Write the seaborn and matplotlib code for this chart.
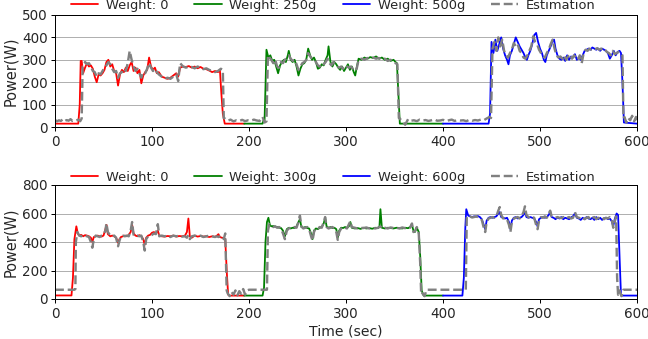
import numpy as np
import pandas as pd
import seaborn as sns
import matplotlib.pyplot as plt

# values: (time in sec, power in W)

# ---- top panel ----
top_w0 = [(0, 15), (24, 15), (25.5, 100), (26.5, 295), (27.5, 295), (29, 240), (31, 265), (33, 285),
          (35, 270), (37, 275), (39, 260), (41, 225), (43, 200), (45, 235), (47, 230), (49, 240),
          (51, 255), (53, 290), (55, 300), (57, 270), (59, 280), (61, 250), (63, 240), (65, 185),
          (67, 235), (69, 255), (71, 245), (73, 265), (75, 250), (77, 275), (79, 290), (81, 250),
          (83, 265), (85, 240), (87, 255), (89, 195), (91, 230), (93, 245), (95, 255), (97, 310),
          (99, 270), (101, 255), (103, 265), (105, 240), (107, 245), (110, 225), (113, 220),
          (116, 215), (119, 220), (122, 230), (125, 240), (127, 225), (129, 265), (132, 270),
          (135, 268), (138, 272), (141, 265), (144, 270), (147, 262), (150, 268), (153, 260),
          (156, 258), (159, 252), (162, 245), (165, 250), (168, 245), (170, 255), (171.5, 150),
          (173, 60), (175, 15), (195, 15)]
top_w1 = [(195, 15), (214, 15), (215, 30), (216, 25), (217, 180), (218, 345), (220, 310), (222, 320),
          (224, 295), (226, 300), (228, 270), (230, 240), (232, 275), (234, 290), (236, 300),
          (238, 290), (240, 320), (241, 340), (243, 300), (245, 290), (247, 300), (249, 270),
          (251, 230), (253, 260), (255, 280), (257, 285), (259, 300), (261, 350), (263, 320),
          (265, 300), (267, 310), (269, 290), (271, 260), (273, 265), (275, 280), (277, 275),
          (279, 300), (281, 320), (282, 360), (284, 290), (286, 270), (288, 290), (290, 280),
          (292, 265), (294, 255), (296, 270), (298, 250), (300, 265), (302, 280), (304, 255),
          (306, 270), (308, 245), (309.5, 230), (311, 265), (313, 305), (316, 300), (319, 310),
          (322, 305), (325, 312), (328, 308), (331, 315), (334, 305), (337, 310), (340, 300),
          (343, 305), (346, 295), (349, 300), (351, 290), (352.5, 285), (354, 150), (355.5, 15),
          (400, 15)]
top_w2 = [(400, 15), (447, 15), (448.5, 60), (450, 380), (452, 330), (454, 390), (456, 340),
          (458, 370), (460, 400), (462, 350), (464, 320), (466, 300), (467.5, 280), (469, 320),
          (471, 340), (473, 370), (475, 400), (477, 380), (479, 360), (481, 345), (483, 330),
          (485, 310), (486.5, 300), (488, 320), (490, 340), (492, 370), (494, 410), (496, 420),
          (498, 380), (500, 350), (502, 330), (504, 300), (505.5, 290), (507, 320), (509, 340),
          (511, 360), (513, 385), (514.5, 390), (516, 350), (518, 320), (520, 305), (522, 300),
          (524, 310), (526, 295), (528, 320), (530, 300), (532, 315), (534, 310), (536, 325),
          (538, 300), (540, 310), (542, 300), (544, 320), (546, 340), (548, 345), (550, 350),
          (552, 345), (554, 355), (556, 350), (558, 345), (560, 350), (562, 340), (564, 350),
          (566, 345), (568, 340), (570, 330), (572, 305), (574, 320), (576, 340), (578, 320),
          (580, 335), (582, 340), (583.5, 330), (585, 200), (586.5, 20), (600, 15)]
top_est = [(0, 32), (2, 25), (4, 30), (6, 27), (8, 34), (10, 26), (12, 31), (14, 28), (16, 35),
           (18, 27), (20, 30), (22, 29), (24, 33), (26, 26), (27.5, 38), (28.5, 270), (29, 270),
           (31, 290), (33, 280), (35, 285), (37, 270), (39, 250), (41, 245), (43, 225), (45, 240),
           (47, 235), (49, 250), (51, 265), (53, 275), (55, 290), (57, 280), (59, 260), (61, 245),
           (63, 250), (65, 220), (67, 240), (69, 245), (71, 260), (73, 250), (75, 285), (77, 340),
           (79, 300), (81, 270), (83, 250), (85, 260), (87, 240), (89, 220), (91, 245), (93, 240),
           (95, 260), (97, 285), (99, 265), (101, 250), (103, 260), (105, 245), (107, 235),
           (110, 225), (113, 215), (116, 220), (119, 215), (122, 225), (125, 235), (127, 205),
           (129, 285), (132, 270), (135, 265), (138, 270), (141, 268), (144, 262), (147, 270),
           (150, 265), (153, 258), (156, 262), (159, 255), (162, 250), (165, 245), (168, 250),
           (171, 260), (173, 255), (174, 40), (175, 38), (178, 28), (181, 33), (184, 25), (187, 30),
           (190, 27), (193, 32), (196, 26), (199, 30), (202, 28), (205, 33), (208, 29), (211, 27),
           (214, 45), (216, 20), (218, 25), (219.5, 320), (221, 310), (223, 300), (225, 285),
           (227, 300), (229, 270), (231, 265), (233, 290), (235, 285), (237, 300), (239, 310),
           (241, 320), (243, 305), (245, 295), (247, 300), (249, 280), (251, 255), (253, 270),
           (255, 285), (257, 290), (259, 300), (261, 330), (263, 315), (265, 305), (267, 300),
           (269, 290), (271, 275), (273, 270), (275, 285), (277, 280), (279, 290), (281, 305),
           (283, 285), (285, 275), (287, 290), (289, 280), (291, 270), (293, 265), (295, 270),
           (297, 260), (299, 275), (301, 270), (303, 265), (305, 270), (307, 260), (309, 250),
           (311, 260), (313, 300), (316, 305), (319, 300), (322, 308), (325, 305), (328, 310),
           (331, 305), (334, 308), (337, 300), (340, 305), (343, 295), (346, 300), (349, 290),
           (351, 285), (353, 280), (354.5, 40), (355, 40), (358, 25), (361, 10), (364, 35),
           (367, 28), (370, 30), (373, 26), (376, 33), (379, 29), (382, 31), (385, 27), (388, 30),
           (391, 34), (394, 28), (397, 29), (400, 32), (403, 26), (406, 30), (409, 33), (412, 27),
           (415, 31), (418, 29), (421, 30), (424, 26), (427, 32), (430, 28), (433, 31), (436, 29),
           (439, 33), (442, 30), (445, 38), (448, 45), (449.5, 40), (451, 350), (453, 380),
           (455, 340), (457, 400), (459, 360), (461, 390), (463, 340), (465, 320), (467, 310),
           (469, 330), (471, 345), (473, 375), (475, 360), (477, 370), (479, 340), (481, 330),
           (483, 310), (485, 305), (487, 320), (489, 340), (491, 360), (493, 405), (495, 380),
           (497, 370), (499, 345), (501, 330), (503, 315), (505, 310), (507, 330), (509, 345),
           (511, 370), (513, 390), (515, 350), (517, 320), (519, 310), (521, 315), (523, 305),
           (525, 320), (527, 300), (529, 315), (531, 325), (533, 305), (535, 320), (537, 310),
           (539, 300), (541, 320), (543, 285), (545, 330), (547, 345), (549, 340), (551, 350),
           (553, 345), (555, 350), (557, 348), (559, 352), (561, 345), (563, 350), (565, 340),
           (567, 345), (569, 335), (571, 330), (573, 320), (575, 340), (577, 325), (579, 330),
           (581, 335), (583, 330), (585, 320), (586, 40), (587, 45), (589, 20), (591, 40),
           (593, 30), (595, 50), (597, 25), (599, 45), (600, 30)]

# ---- bottom panel ----
bot_w0 = [(0, 25), (17, 25), (18.5, 150), (20, 420), (22, 510), (23.5, 460), (25, 445), (27, 450),
          (29, 440), (31, 448), (33, 445), (35, 440), (37, 430), (38.5, 400), (40, 435), (42, 440),
          (44, 445), (46, 440), (48, 438), (50, 445), (52, 490), (53, 520), (54.5, 455), (57, 440),
          (59, 445), (61, 440), (63, 430), (65, 395), (66.5, 420), (68, 435), (70, 440), (72, 445),
          (74, 440), (76, 450), (78, 470), (79.5, 520), (81, 460), (83, 445), (85, 440), (87, 448),
          (89, 440), (91, 420), (92.5, 380), (94, 430), (96, 445), (98, 450), (100, 465),
          (102, 470), (104, 460), (106, 480), (107.5, 445), (110, 440), (113, 438), (116, 442),
          (119, 440), (122, 445), (125, 438), (128, 442), (131, 440), (134, 445), (136, 470),
          (137.5, 565), (139, 440), (141, 430), (144, 445), (147, 438), (150, 442), (153, 438),
          (156, 440), (159, 435), (162, 440), (165, 436), (167, 445), (168.5, 455), (170, 435),
          (172, 430), (174, 428), (175.5, 420), (177, 200), (178.5, 30), (180, 24), (195, 24)]
bot_w1 = [(195, 24), (214, 24), (215.5, 80), (217, 400), (218.5, 540), (220, 570), (221.5, 520),
          (223, 510), (225, 512), (227, 508), (229, 505), (231, 500), (233, 498), (235, 480),
          (237, 440), (239, 490), (241, 500), (243, 495), (245, 500), (247, 498), (249, 510),
          (251, 540), (252.5, 560), (254, 505), (256, 500), (258, 505), (260, 498), (262, 495),
          (264, 460), (265.5, 420), (267, 480), (269, 495), (271, 490), (273, 500), (275, 505),
          (277, 530), (278.5, 570), (280, 510), (282, 500), (284, 505), (286, 498), (288, 500),
          (290, 490), (291.5, 430), (293, 480), (295, 500), (297, 498), (299, 505), (301, 500),
          (303, 510), (304.5, 540), (306, 500), (309, 495), (312, 498), (315, 492), (318, 500),
          (321, 495), (324, 498), (327, 493), (330, 500), (333, 497), (334.5, 510), (335.5, 630),
          (337, 500), (340, 495), (343, 500), (346, 498), (349, 495), (352, 500), (355, 497),
          (358, 495), (361, 500), (364, 497), (366, 505), (368, 520), (369.5, 480), (371, 470),
          (373, 500), (375, 470), (376.5, 300), (378, 60), (380, 24), (400, 24)]
bot_w2 = [(400, 24), (420, 24), (421.5, 150), (423, 500), (424, 630), (426, 585), (428, 580),
          (430, 575), (432, 580), (434, 578), (436, 582), (438, 575), (440, 560), (442, 520),
          (443.5, 490), (445, 550), (447, 570), (449, 575), (451, 570), (453, 575), (455, 580),
          (457, 600), (458.5, 610), (460, 575), (462, 570), (464, 565), (466, 570), (468, 540),
          (469.5, 490), (471, 550), (473, 570), (475, 575), (477, 565), (479, 570), (481, 575),
          (483, 590), (484.5, 610), (486, 575), (488, 570), (490, 575), (492, 570), (494, 565),
          (496, 540), (497.5, 510), (499, 560), (501, 570), (503, 575), (505, 570), (507, 575),
          (509, 590), (510.5, 610), (512, 575), (514, 570), (516, 560), (518, 572), (520, 565),
          (522, 575), (524, 560), (526, 570), (528, 565), (530, 560), (532, 572), (534, 580),
          (536, 600), (538, 570), (540, 565), (542, 555), (544, 570), (546, 560), (548, 575),
          (550, 565), (552, 560), (554, 570), (556, 555), (558, 575), (560, 560), (562, 570),
          (564, 555), (566, 565), (568, 570), (570, 560), (572, 565), (574, 545), (575.5, 510),
          (577, 560), (579, 600), (580.5, 590), (582, 300), (583.5, 24), (600, 24)]
bot_est = [(0, 65), (20, 65), (21, 70), (21.5, 400), (23, 470), (25, 445), (27, 440), (29, 450),
           (31, 445), (33, 440), (35, 435), (37, 400), (38.5, 360), (40, 420), (42, 445), (44, 440),
           (46, 435), (48, 445), (50, 450), (52, 480), (53, 530), (54.5, 470), (57, 445), (59, 440),
           (61, 445), (63, 430), (65, 370), (66.5, 410), (68, 440), (70, 445), (72, 440), (74, 445),
           (76, 440), (78, 480), (79.5, 540), (81, 450), (83, 440), (85, 445), (87, 440), (89, 445),
           (91, 400), (92.5, 340), (94, 420), (96, 440), (98, 445), (100, 450), (102, 460),
           (104, 455), (106, 525), (107.5, 440), (110, 445), (113, 440), (116, 445), (119, 435),
           (122, 445), (125, 440), (128, 445), (131, 438), (134, 440), (136, 430), (137.5, 450),
           (139, 420), (141, 440), (144, 445), (147, 440), (150, 445), (153, 435), (156, 440),
           (159, 445), (162, 440), (165, 435), (167, 440), (168.5, 435), (170, 440), (172, 445),
           (174, 420), (175.5, 460), (177, 60), (178, 40), (180, 20), (182, 50), (184, 30),
           (186, 60), (188, 25), (190, 55), (192, 35), (194, 70), (196, 30), (198, 60), (200, 65),
           (218.5, 65), (219.5, 480), (221, 525), (223, 515), (225, 505), (227, 510), (229, 500),
           (231, 505), (233, 495), (235, 460), (237, 420), (239, 480), (241, 495), (243, 500),
           (245, 495), (247, 505), (249, 500), (251, 540), (252.5, 585), (254, 510), (256, 495),
           (258, 500), (260, 505), (262, 490), (264, 440), (265.5, 410), (267, 470), (269, 500),
           (271, 495), (273, 505), (275, 500), (277, 540), (278.5, 575), (280, 505), (282, 495),
           (284, 500), (286, 505), (288, 495), (290, 470), (291.5, 415), (293, 470), (295, 495),
           (297, 505), (299, 500), (301, 495), (303, 525), (304.5, 545), (306, 505), (309, 500),
           (312, 495), (315, 500), (318, 498), (321, 502), (324, 495), (327, 500), (330, 495),
           (333, 500), (334.5, 505), (335.5, 510), (337, 495), (340, 500), (343, 495), (346, 502),
           (349, 498), (352, 500), (355, 495), (358, 502), (361, 497), (364, 495), (366, 500),
           (368, 530), (369.5, 470), (371, 475), (373, 505), (375, 460), (376.5, 250), (377.5, 30),
           (379, 40), (381, 20), (383, 65), (423.5, 65), (424.5, 580), (426, 575), (428, 578),
           (430, 572), (432, 575), (434, 580), (436, 575), (438, 570), (440, 555), (442, 500),
           (443.5, 470), (445, 540), (447, 565), (449, 570), (451, 575), (453, 570), (455, 580),
           (457, 620), (458.5, 645), (460, 590), (462, 565), (464, 570), (466, 560), (468, 520),
           (469.5, 470), (471, 540), (473, 565), (475, 570), (477, 575), (479, 565), (481, 580),
           (483, 610), (484.5, 650), (486, 590), (488, 575), (490, 565), (492, 575), (494, 570),
           (496, 520), (497.5, 490), (499, 550), (501, 575), (503, 570), (505, 580), (507, 570),
           (509, 600), (510.5, 620), (512, 580), (514, 575), (516, 570), (518, 575), (520, 570),
           (522, 568), (524, 575), (526, 565), (528, 570), (530, 575), (532, 565), (534, 570),
           (536, 610), (538, 575), (540, 570), (542, 565), (544, 575), (546, 560), (548, 570),
           (550, 575), (552, 555), (554, 570), (556, 575), (558, 560), (560, 570), (562, 565),
           (564, 575), (566, 560), (568, 570), (570, 565), (572, 575), (574, 560), (575.5, 500),
           (577, 540), (578.5, 580), (579.5, 150), (580.5, 30), (582, 60), (584, 20), (586, 65),
           (600, 65)]

top_labels = ["Weight: 0", "Weight: 250g", "Weight: 500g"]
bot_labels = ["Weight: 0", "Weight: 300g", "Weight: 600g"]
colors = ["red", "green", "blue"]

sns.set_style("ticks")
plt.rcParams['font.family'] = ['DejaVu Sans']

W, H = 648, 339
fig = plt.figure(figsize=(W / 72, H / 72), dpi=72)
ax1 = fig.add_axes([55 / W, 1 - 127 / H, 582 / W, 112 / H])
ax2 = fig.add_axes([55 / W, 1 - 299 / H, 582 / W, 114 / H])


def draw(ax, parts, est, labels, ymax, ystep, leg_y):
    for pts, c, lab in zip(parts, colors, labels):
        t, w = zip(*pts)
        sns.lineplot(x=list(t), y=list(w), ax=ax, color=c, lw=1.8, label=lab,
                     estimator=None, sort=False)
    t, w = zip(*est)
    sns.lineplot(x=list(t), y=list(w), ax=ax, color="gray", lw=2.4, ls="--",
                 label="Estimation", estimator=None, sort=False)
    ax.set_xlim(0, 600)
    ax.set_ylim(0, ymax)
    ax.set_xticks(range(0, 601, 100))
    ax.set_yticks(range(0, ymax + 1, ystep))
    ax.set_axisbelow(True)
    ax.yaxis.grid(True, color="#b0b0b0", lw=1)
    ax.tick_params(labelsize=13.5, length=4, width=1, color="black")
    for s in ax.spines.values():
        s.set_color("black")
        s.set_linewidth(1)
    ax.set_ylabel("Power(W)", fontsize=14.5)
    ax.legend(loc="center", bbox_to_anchor=(0.478, leg_y), ncol=4, frameon=False,
              fontsize=13, handlelength=2.1, handletextpad=0.6, columnspacing=2.0,
              borderaxespad=0)


draw(ax1, [top_w0, top_w1, top_w2], top_est, top_labels, 500, 100, 1.085)
draw(ax2, [bot_w0, bot_w1, bot_w2], bot_est, bot_labels, 800, 200, 1.07)
ax2.set_xlabel("Time (sec)", fontsize=14)

fig.savefig("out.png", dpi=72)
